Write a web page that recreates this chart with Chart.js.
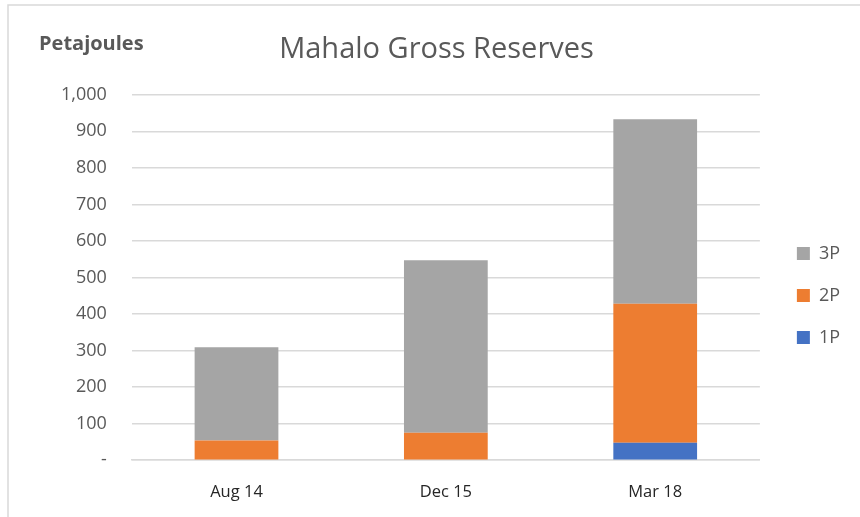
<!DOCTYPE html>
<html>
<head>
<meta charset="utf-8">
<script src="https://cdn.jsdelivr.net/npm/chart.js@4/dist/chart.umd.min.js"></script>
<style>
  body { margin: 0; background: #fff; }
  canvas { display: block; }
</style>
</head>
<body>
<canvas id="myChart" width="860" height="517"></canvas>
<script>
// data
var categories = ['Aug 14', 'Dec 15', 'Mar 18'];
var reserves1P = [0, 0, 48];
var reserves2P = [54, 75, 380];
var reserves3P = [255, 472, 505];
var yTicks = [0, 100, 200, 300, 400, 500, 600, 700, 800, 900, 1000];

var grey = '#595959';

// frame lines + unit label, and nudge the legend away from the plot
var extras = {
    id: 'extras',
    afterLayout: function(chart) {
        chart.legend.left += 13;
        chart.legend.right += 13;
    },
    beforeDraw: function(chart) {
        var c = chart.ctx;
        c.save();
        c.fillStyle = '#fff';
        c.fillRect(0, 0, chart.width, chart.height);
        c.strokeStyle = '#d9d9d9';
        c.lineWidth = 1.5;
        c.beginPath();
        c.moveTo(8, 517);
        c.lineTo(8, 5);
        c.lineTo(860, 5);
        c.stroke();
        c.fillStyle = grey;
        c.font = 'bold 20px "Open Sans"';
        c.textBaseline = 'middle';
        c.fillText('Petajoules', 39, 44);
        c.restore();
    }
};

window.onload = function() {
    var ctx = document.getElementById('myChart').getContext('2d');

    var myChart = new Chart(ctx, {
        type: 'bar',
        data: {
            labels: categories,
            datasets: [
                { label: '1P', data: reserves1P, backgroundColor: '#4472c4' },
                { label: '2P', data: reserves2P, backgroundColor: '#ed7d31' },
                { label: '3P', data: reserves3P, backgroundColor: '#a5a5a5' }
            ]
        },
        options: {
            responsive: false,
            animation: false,
            layout: { padding: { left: 36, right: 23, top: 10, bottom: 1 } },
            datasets: {
                bar: { barPercentage: 0.4, categoryPercentage: 1 }
            },
            scales: {
                x: {
                    stacked: true,
                    grid: { display: false },
                    border: { color: '#d9d9d9', width: 1.5 },
                    ticks: { color: '#262626', font: { family: 'Open Sans', size: 16.5 }, padding: 14 }
                },
                y: {
                    stacked: true,
                    min: 0,
                    max: 1000,
                    afterBuildTicks: function(axis) {
                        axis.ticks = yTicks.map(function(v) { return { value: v }; });
                    },
                    grid: { color: '#d9d9d9', lineWidth: 1.5, drawTicks: false },
                    border: { display: false },
                    ticks: {
                        color: grey,
                        padding: 25,
                        font: { family: 'Open Sans', size: 18 },
                        callback: function(v) { return v === 0 ? '-' : v.toLocaleString('en-US'); }
                    }
                }
            },
            plugins: {
                title: {
                    display: true,
                    text: 'Mahalo Gross Reserves',
                    color: grey,
                    font: { family: 'Open Sans', size: 29, weight: 'normal' },
                    padding: { top: 22, bottom: 28 }
                },
                legend: {
                    display: true,
                    position: 'right',
                    reverse: true,
                    title: { display: true, text: ' ', font: { size: 10 }, padding: { top: 53, bottom: 0 } },
                    labels: {
                        color: grey,
                        font: { family: 'Open Sans', size: 18 },
                        boxWidth: 13,
                        boxHeight: 13,
                        padding: 24
                    }
                },
                tooltip: { enabled: false }
            }
        },
        plugins: [extras]
    });
};
</script>
</body>
</html>
